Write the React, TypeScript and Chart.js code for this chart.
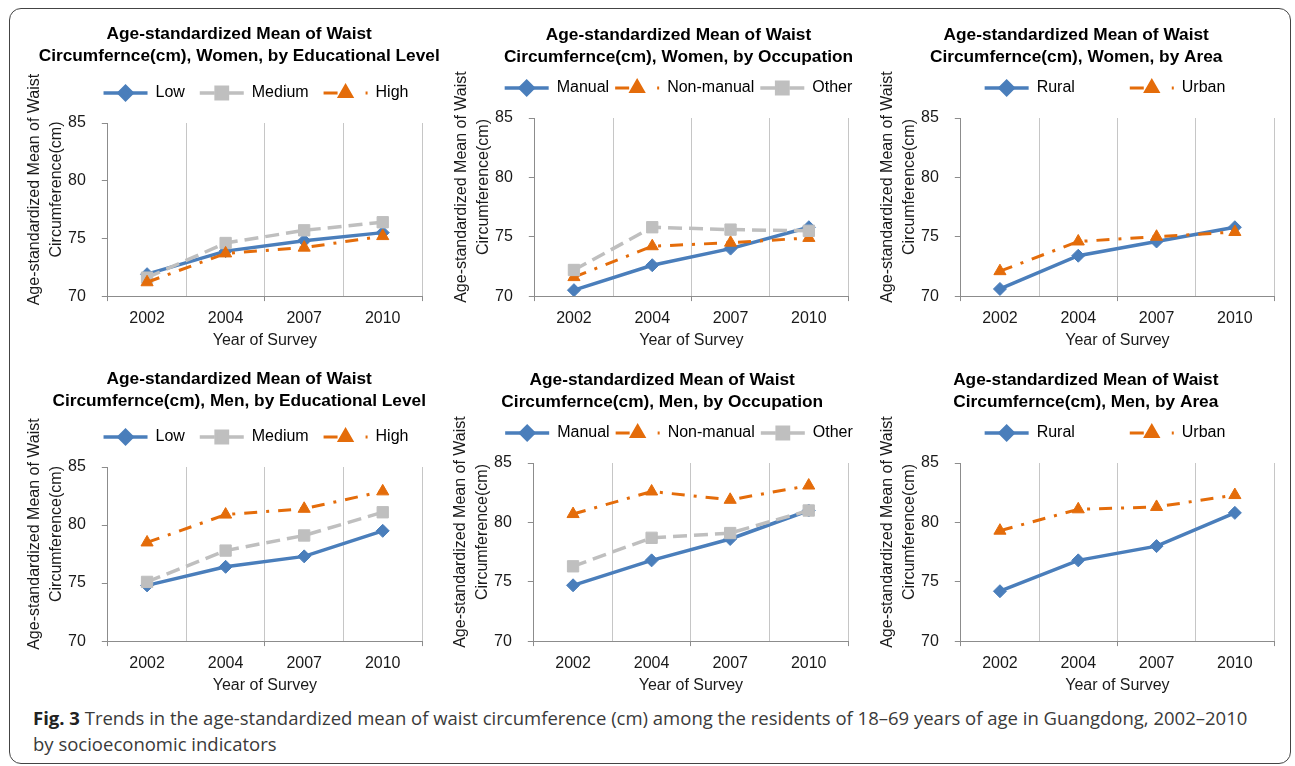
import React, { useEffect, useRef } from 'react';
import { Chart, registerables } from 'chart.js';
import { drawPoint } from 'chart.js/helpers';

Chart.register(...registerables);

// ---------- data ----------
const YEARS = ['2002', '2004', '2007', '2010'];
const Y_TICKS = [70, 75, 80, 85];

const WOMEN_EDU_LOW = [71.9, 73.9, 74.8, 75.5];
const WOMEN_EDU_MEDIUM = [71.6, 74.6, 75.7, 76.4];
const WOMEN_EDU_HIGH = [71.2, 73.7, 74.2, 75.2];

const WOMEN_OCC_MANUAL = [70.5, 72.6, 74.0, 75.8];
const WOMEN_OCC_NONMANUAL = [71.6, 74.2, 74.5, 74.9];
const WOMEN_OCC_OTHER = [72.2, 75.8, 75.6, 75.5];

const WOMEN_AREA_RURAL = [70.6, 73.4, 74.6, 75.8];
const WOMEN_AREA_URBAN = [72.1, 74.6, 75.0, 75.4];

const MEN_EDU_LOW = [74.8, 76.4, 77.3, 79.5];
const MEN_EDU_MEDIUM = [75.1, 77.8, 79.1, 81.1];
const MEN_EDU_HIGH = [78.5, 80.9, 81.4, 82.9];

const MEN_OCC_MANUAL = [74.7, 76.8, 78.6, 81.0];
const MEN_OCC_NONMANUAL = [80.7, 82.6, 81.9, 83.1];
const MEN_OCC_OTHER = [76.3, 78.7, 79.1, 81.0];

const MEN_AREA_RURAL = [74.2, 76.8, 78.0, 80.8];
const MEN_AREA_URBAN = [79.3, 81.1, 81.3, 82.3];

const X_TITLE = 'Year of Survey';
const Y_TITLE = ['Age-standardized Mean of Waist', 'Circumference(cm)'];
const CAPTION_BOLD = 'Fig. 3';
const CAPTION_LINE1 =
  ' Trends in the age-standardized mean of waist circumference (cm) among the residents of 18–69 years of age in Guangdong, 2002–2010';
const CAPTION_LINE2 = 'by socioeconomic indicators';

// ---------- styles ----------
const FONT = "'Liberation Sans', Arial, Helvetica, sans-serif";
const TEXT = '#1a1a1a';
const AXIS = '#8c8c8c';
const GRID = '#c6c6c6';

type Kind = 'solid' | 'dashed' | 'dashdot';
const STYLE: Record<Kind, any> = {
  solid: { color: '#4A7EBB', dash: [], legendDash: [], point: 'rectRot', radius: 6.5, width: 3.5 },
  dashed: { color: '#BFBFBF', dash: [14, 7], legendDash: [15, 14, 15, 100], point: 'rect', radius: 8, width: 3.5 },
  dashdot: { color: '#E46C0A', dash: [13, 9, 3, 9], legendDash: [14, 28, 4, 100], point: 'triangle', radius: 7, width: 3 },
};

type Series = { label: string; data: number[]; kind: Kind };
type Panel = {
  title: string[];
  series: Series[];
  left: number;
  top: number;
  width: number;
  height: number;
  spacer: number;
  titleBottom: number;
  titleShift: number;
  legendPads: number[];
};

const PANELS: Panel[] = [
  {
    title: ['Age-standardized Mean of Waist', 'Circumfernce(cm), Women, by Educational Level'],
    series: [
      { label: 'Low', data: WOMEN_EDU_LOW, kind: 'solid' },
      { label: 'Medium', data: WOMEN_EDU_MEDIUM, kind: 'dashed' },
      { label: 'High', data: WOMEN_EDU_HIGH, kind: 'dashdot' },
    ],
    left: 24, top: 19, width: 464, height: 335, spacer: 66, titleBottom: 0, titleShift: 7, legendPads: [2, 2, 0],
  },
  {
    title: ['Age-standardized Mean of Waist', 'Circumfernce(cm), Women, by Occupation'],
    series: [
      { label: 'Manual', data: WOMEN_OCC_MANUAL, kind: 'solid' },
      { label: 'Non-manual', data: WOMEN_OCC_NONMANUAL, kind: 'dashdot' },
      { label: 'Other', data: WOMEN_OCC_OTHER, kind: 'dashed' },
    ],
    left: 451, top: 20, width: 455, height: 334, spacer: 58, titleBottom: -6, titleShift: 0, legendPads: [0, 0, 0],
  },
  {
    title: ['Age-standardized Mean of Waist', 'Circumfernce(cm), Women, by Area'],
    series: [
      { label: 'Rural', data: WOMEN_AREA_RURAL, kind: 'solid' },
      { label: 'Urban', data: WOMEN_AREA_URBAN, kind: 'dashdot' },
    ],
    left: 877, top: 20, width: 456, height: 334, spacer: 59, titleBottom: -6, titleShift: 12, legendPads: [11, 0],
  },
  {
    title: ['Age-standardized Mean of Waist', 'Circumfernce(cm), Men, by Educational Level'],
    series: [
      { label: 'Low', data: MEN_EDU_LOW, kind: 'solid' },
      { label: 'Medium', data: MEN_EDU_MEDIUM, kind: 'dashed' },
      { label: 'High', data: MEN_EDU_HIGH, kind: 'dashdot' },
    ],
    left: 24, top: 364, width: 464, height: 335, spacer: 66, titleBottom: -1, titleShift: 7, legendPads: [2, 2, 0],
  },
  {
    title: ['Age-standardized Mean of Waist', 'Circumfernce(cm), Men, by Occupation'],
    series: [
      { label: 'Manual', data: MEN_OCC_MANUAL, kind: 'solid' },
      { label: 'Non-manual', data: MEN_OCC_NONMANUAL, kind: 'dashdot' },
      { label: 'Other', data: MEN_OCC_OTHER, kind: 'dashed' },
    ],
    left: 450, top: 365, width: 458, height: 334, spacer: 60, titleBottom: -6, titleShift: 7, legendPads: [0, 0, 0],
  },
  {
    title: ['Age-standardized Mean of Waist', 'Circumfernce(cm), Men, by Area'],
    series: [
      { label: 'Rural', data: MEN_AREA_RURAL, kind: 'solid' },
      { label: 'Urban', data: MEN_AREA_URBAN, kind: 'dashdot' },
    ],
    left: 877, top: 365, width: 456, height: 334, spacer: 59, titleBottom: -6, titleShift: 8, legendPads: [11, 0],
  },
];

const LEGEND_BOX = 44;

// draws a line sample + marker in each legend slot reserved by the legend
const legendSamples = {
  id: 'legendSamples',
  afterDraw(chart: any) {
    const lg = chart.legend;
    if (!lg || !lg.legendHitBoxes || !lg.legendItems) return;
    const ctx = chart.ctx;
    lg.legendItems.forEach((item: any, i: number) => {
      const hb = lg.legendHitBoxes[i];
      const ds = chart.data.datasets[item.datasetIndex];
      if (!hb || !ds) return;
      const cy = hb.top + hb.height / 2;
      ctx.save();
      ctx.strokeStyle = ds.borderColor;
      ctx.lineWidth = ds.borderWidth;
      ctx.lineCap = 'butt';
      ctx.setLineDash(ds.legendDash || []);
      ctx.beginPath();
      ctx.moveTo(hb.left, cy);
      ctx.lineTo(hb.left + LEGEND_BOX, cy);
      ctx.stroke();
      ctx.setLineDash([]);
      ctx.fillStyle = ds.pointBackgroundColor;
      ctx.strokeStyle = ds.pointBorderColor;
      drawPoint(
        ctx,
        { pointStyle: ds.pointStyle, radius: ds.pointRadius, borderWidth: ds.pointBorderWidth, rotation: 0 } as any,
        hb.left + LEGEND_BOX / 2,
        cy
      );
      ctx.restore();
    });
  },
};

function ChartPanel({ p }: { p: Panel }) {
  const ref = useRef<HTMLCanvasElement | null>(null);
  useEffect(() => {
    if (!ref.current) return;
    const ypad = ' '.repeat(9);
    const tpad = ' '.repeat(p.titleShift);
    const chart = new Chart(ref.current, {
      type: 'line',
      data: {
        labels: YEARS,
        datasets: p.series.map((s, i) => {
          const st = STYLE[s.kind];
          return {
            label: s.label,
            data: s.data,
            yAxisID: 'y',
            order: -i,
            borderColor: st.color,
            borderWidth: st.width,
            borderDash: st.dash,
            legendDash: st.legendDash,
            tension: 0,
            fill: false,
            pointStyle: st.point,
            pointRadius: st.radius,
            pointBackgroundColor: st.color,
            pointBorderColor: st.color,
            pointBorderWidth: 1,
          };
        }),
      },
      options: {
        responsive: false,
        animation: false,
        devicePixelRatio: 1,
        events: [],
        layout: { padding: 0 },
        plugins: {
          title: {
            display: true,
            text: p.title.map((t) => t + tpad),
            color: '#000',
            font: { family: FONT, size: 17.3, weight: 'bold', lineHeight: 22 / 17.3 },
            padding: { top: 4, bottom: p.titleBottom },
          },
          legend: {
            display: true,
            position: 'top',
            fullSize: true,
            onClick: () => {},
            labels: {
              boxWidth: LEGEND_BOX,
              boxHeight: 40,
              padding: 6,
              color: TEXT,
              font: { family: FONT, size: 16 },
              generateLabels: (chart: any) =>
                chart.data.datasets.map((ds: any, i: number) => ({
                  text: ds.label + ' '.repeat(p.legendPads[i] || 0),
                  fillStyle: 'rgba(0,0,0,0)',
                  strokeStyle: 'rgba(0,0,0,0)',
                  lineWidth: 0,
                  hidden: false,
                  datasetIndex: i,
                })),
            },
          },
          tooltip: { enabled: false },
        },
        scales: {
          x: {
            type: 'category',
            offset: true,
            grid: {
              offset: true,
              color: GRID,
              lineWidth: 1,
              drawTicks: true,
              tickLength: 5,
              tickWidth: 1,
              tickColor: (c: any) =>
                c.index === undefined || c.index % 2 === 0 ? AXIS : 'rgba(0,0,0,0)',
            },
            border: { color: AXIS, width: 1 },
            ticks: { color: TEXT, font: { family: FONT, size: 16 }, padding: 8, maxRotation: 0, autoSkip: false },
            title: {
              display: true,
              text: X_TITLE,
              color: TEXT,
              font: { family: FONT, size: 16 },
              padding: { top: -5.5, bottom: 4 },
            },
          },
          y: {
            type: 'linear',
            position: 'left',
            min: Y_TICKS[0],
            max: Y_TICKS[Y_TICKS.length - 1],
            afterBuildTicks: (s: any) => {
              s.ticks = Y_TICKS.map((v) => ({ value: v }));
            },
            grid: { drawOnChartArea: false, drawTicks: true, tickLength: 6, tickColor: AXIS },
            border: { color: AXIS, width: 1 },
            ticks: { color: TEXT, font: { family: FONT, size: 16 }, padding: 16 },
            title: {
              display: true,
              text: Y_TITLE.map((t) => ypad + t),
              color: TEXT,
              font: { family: FONT, size: 16, lineHeight: 1.375 },
              padding: { top: 0, bottom: -16 },
            },
          },
          spacer: {
            type: 'linear',
            position: 'right',
            display: true,
            grid: { display: false, drawTicks: false },
            border: { display: false },
            ticks: { display: false },
            afterFit: (s: any) => {
              s.width = p.spacer;
            },
          },
        },
      } as any,
      plugins: [legendSamples],
    });
    return () => chart.destroy();
  }, [p]);
  return (
    <canvas
      ref={ref}
      width={p.width}
      height={p.height}
      style={{ position: 'absolute', left: p.left, top: p.top, width: p.width, height: p.height }}
    />
  );
}

export default function App() {
  return (
    <div style={{ position: 'absolute', left: 0, top: 0, width: 1295, height: 766, background: '#fff', overflow: 'hidden' }}>
      <div
        style={{
          position: 'absolute',
          left: 9,
          top: 8,
          width: 1282,
          height: 756,
          boxSizing: 'border-box',
          border: '1.5px solid #444',
          borderRadius: 12,
        }}
      />
      {PANELS.map((p, i) => (
        <ChartPanel key={i} p={p} />
      ))}
      <div
        style={{
          position: 'absolute',
          left: 33,
          top: 705,
          width: 1250,
          whiteSpace: 'nowrap',
          fontFamily: "'Open Sans', 'Noto Sans', sans-serif",
          fontSize: 18.5,
          lineHeight: '26px',
          color: '#3a3a3a',
        }}
      >
        <b style={{ color: '#222' }}>{CAPTION_BOLD}</b>
        {CAPTION_LINE1}
        <br />
        {CAPTION_LINE2}
      </div>
    </div>
  );
}
